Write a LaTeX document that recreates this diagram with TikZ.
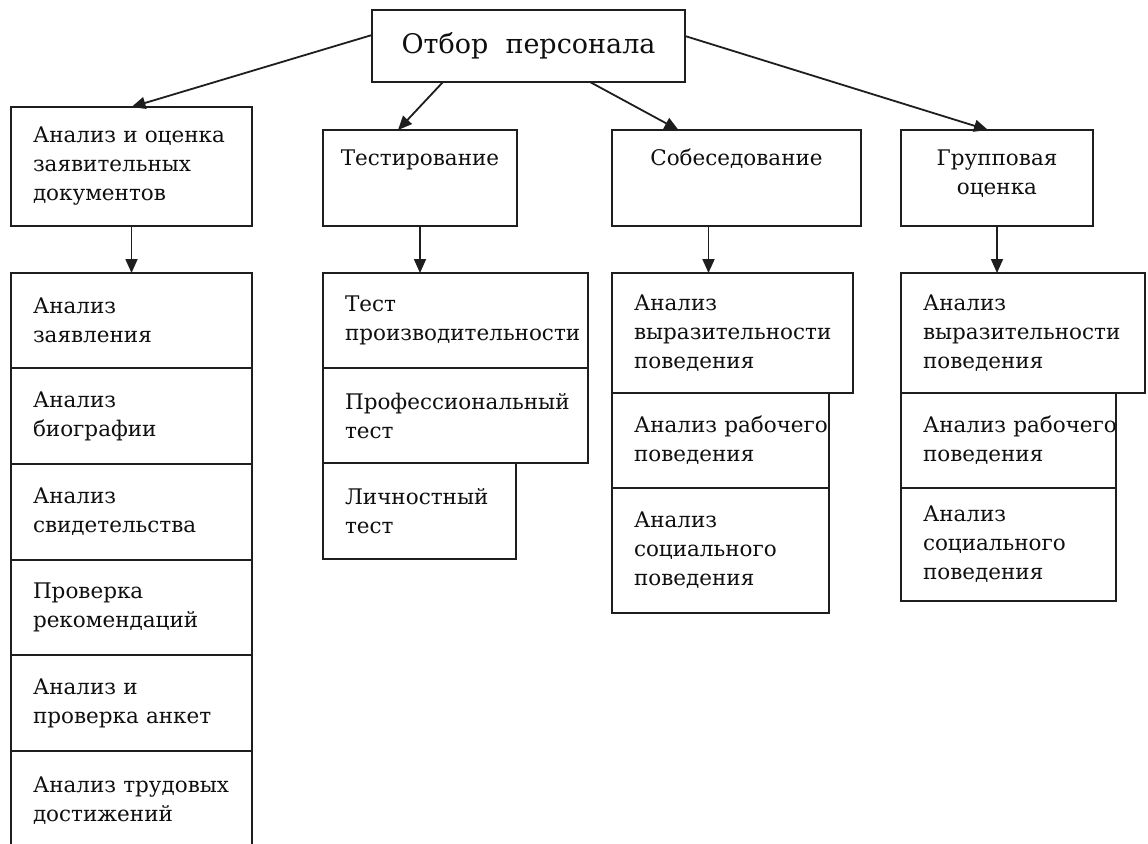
\documentclass[tikz,border=0pt]{standalone}
\usepackage{fontspec}
\setmainfont{DejaVu Serif}
\usepackage{tikz}
\usetikzlibrary{positioning,arrows.meta}
\usepackage{xcolor}
\definecolor{LineGray}{RGB}{30,30,30}
\definecolor{TextGray}{RGB}{15,15,15}
\newcommand{\cellfont}{\fontsize{21.5}{29}\selectfont}
\newcommand{\titlefont}{\fontsize{27}{32}\selectfont}

\begin{document}
\begin{tikzpicture}[x=1pt, y=-1pt,
    cell/.style 2 args={rectangle, draw=LineGray, line width=2pt, text=TextGray,
                 inner sep=0pt, outer sep=0pt, anchor=north west,
                 text width=#1, minimum height=#2, align=left, font=\cellfont,
                 execute at begin node={\leftskip=22pt}},
    head/.style={rectangle, draw=LineGray, line width=2pt, text=TextGray,
                 inner sep=0pt, outer sep=0pt, anchor=north west,
                 text width=#1, text height=35pt, text depth=61pt,
                 align=center, font=\cellfont},
    arrow/.style={-{Triangle[length=14pt, width=12pt]}, line width=1.8pt, draw=LineGray, fill=LineGray}
]
    \useasboundingbox (0,0) rectangle (1148,843);
    \fill[white] (0,0) rectangle (1148,843);
    \clip (0,0) rectangle (1148,843);

    \node[rectangle, draw=LineGray, line width=2pt, text=TextGray, inner sep=0pt, outer sep=0pt,
          anchor=north west, minimum width=313pt, minimum height=72pt, font=\titlefont]
          (sel) at (372,10) {Отбор\ \ персонала};

    % second level
    \node[cell={241pt}{119pt}] (anal) at (11,107) {Анализ~и оценка\\заявительных\\документов};
    \node[head=194pt] (test) at (323,130) {Тестирование};
    \node[head=249pt] (sob) at (612,130) {Собеседование};
    \node[head=192pt] (grp) at (901,130) {Групповая\\оценка};

    % documents
    \node[cell={241pt}{95pt}] (a1) at (11,273) {Анализ\\заявления};
    \node[cell={241pt}{96pt}, below=0pt of a1.south west, anchor=north west] (a2) {Анализ\\биографии};
    \node[cell={241pt}{96pt}, below=0pt of a2.south west, anchor=north west] (a3) {Анализ\\свидетельства};
    \node[cell={241pt}{95pt}, below=0pt of a3.south west, anchor=north west] (a4) {Проверка\\рекомендаций};
    \node[cell={241pt}{96pt}, below=0pt of a4.south west, anchor=north west] (a5) {Анализ~и\\проверка~анкет};
    \node[cell={241pt}{100pt}, below=0pt of a5.south west, anchor=north west] (a6) {Анализ~трудовых\\достижений};

    % tests
    \node[cell={265pt}{95pt}] (t1) at (323,273) {Тест\\производительности};
    \node[cell={265pt}{95pt}, below=0pt of t1.south west, anchor=north west] (t2) {Профессиональный\\тест};
    \node[cell={193pt}{96pt}, below=0pt of t2.south west, anchor=north west] (t3) {Личностный\\тест};

    % interview
    \node[cell={241pt}{120pt}] (s1) at (612,273) {Анализ\\выразительности\\поведения};
    \node[cell={217pt}{95pt}, below=0pt of s1.south west, anchor=north west] (s2) {Анализ~рабочего\\поведения};
    \node[cell={217pt}{125pt}, below=0pt of s2.south west, anchor=north west] (s3) {Анализ\\социального\\поведения};

    % group
    \node[cell={244pt}{120pt}] (g1) at (901,273) {Анализ\\выразительности\\поведения};
    \node[cell={215pt}{95pt}, below=0pt of g1.south west, anchor=north west] (g2) {Анализ~рабочего\\поведения};
    \node[cell={215pt}{113pt}, below=0pt of g2.south west, anchor=north west] (g3) {Анализ\\социального\\поведения};

    \draw[arrow] ([yshift=11pt]sel.west) -- (anal.north);
    \draw[arrow] ([xshift=71pt]sel.south west) -- ([xshift=-22pt]test.north);
    \draw[arrow] ([xshift=218pt]sel.south west) -- ([xshift=-58pt]sob.north);
    \draw[arrow] ([yshift=10pt]sel.east) -- ([xshift=-9pt]grp.north);

    \draw[arrow] (anal.south) -- (anal.south |- a1.north);
    \draw[arrow] (test.south) -- (test.south |- t1.north);
    \draw[arrow] ([xshift=-28pt]sob.south) -- ([xshift=-28pt]sob.south |- s1.north);
    \draw[arrow] (grp.south) -- (grp.south |- g1.north);
\end{tikzpicture}
\end{document}
